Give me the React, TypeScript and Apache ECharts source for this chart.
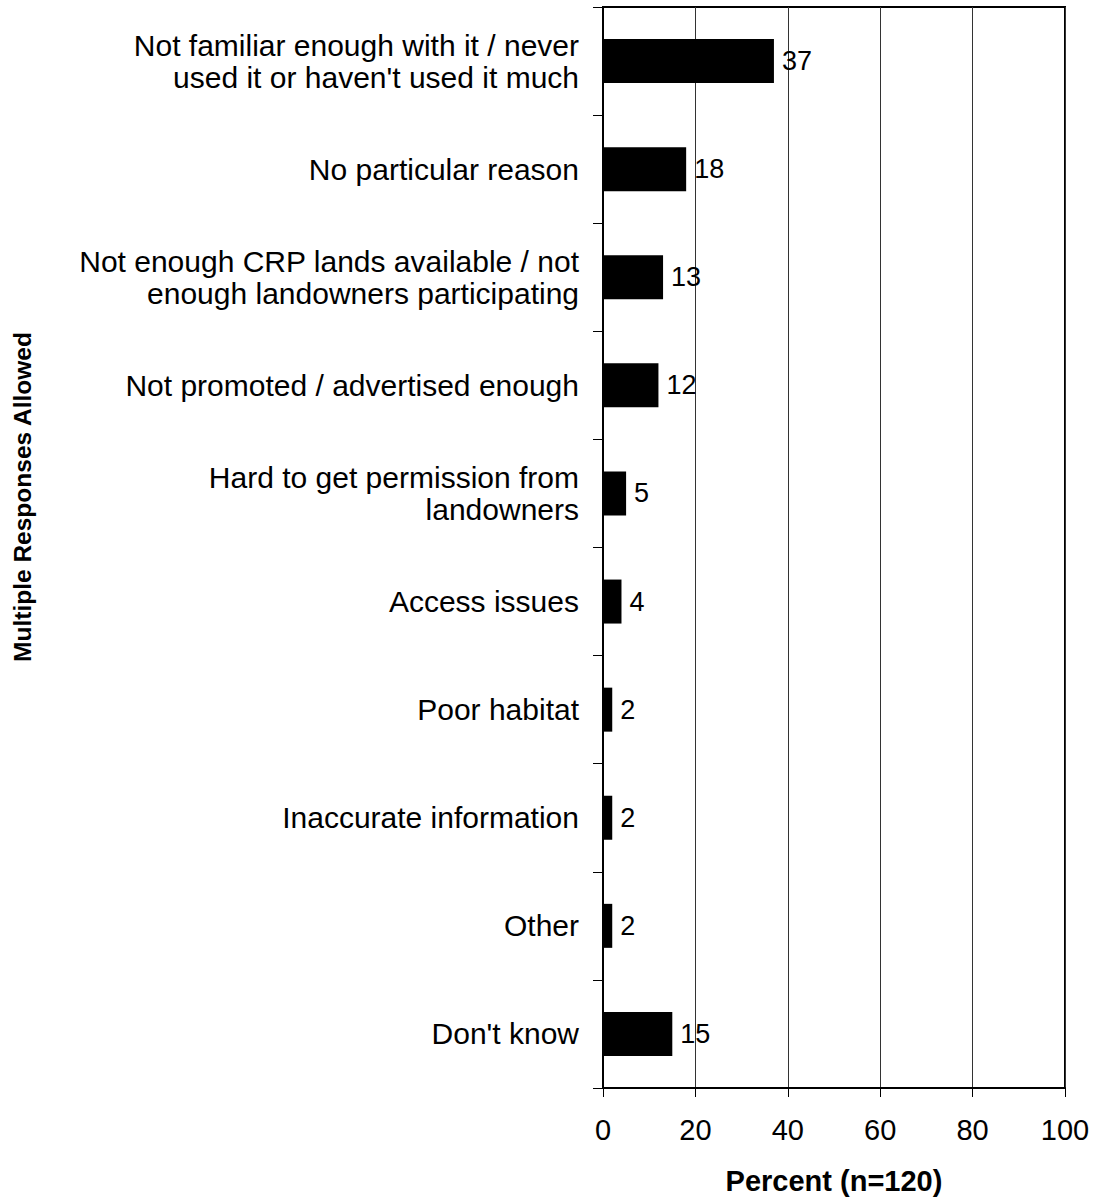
import React, { useEffect, useRef } from "react";
import * as echarts from "echarts";

const categories = [
  "Not familiar enough with it / never\nused it or haven't used it much",
  "No particular reason",
  "Not enough CRP lands available / not\nenough landowners participating",
  "Not promoted / advertised enough",
  "Hard to get permission from\nlandowners",
  "Access issues",
  "Poor habitat",
  "Inaccurate information",
  "Other",
  "Don't know",
];
const values = [37, 18, 13, 12, 5, 4, 2, 2, 2, 15];
const xTicks = [0, 20, 40, 60, 80, 100];
const xTitle = "Percent (n=120)";
const yTitle = "Multiple Responses Allowed";

const FONT = "Liberation Sans, Arial, sans-serif";

export default function App() {
  const ref = useRef<HTMLDivElement>(null);
  useEffect(() => {
    if (!ref.current) return;
    const chart = echarts.init(ref.current, null, { renderer: "svg" });
    chart.setOption({
      animation: false,
      backgroundColor: "#fff",
      textStyle: { fontFamily: FONT },
      grid: {
        left: 603,
        top: 7,
        width: 462,
        height: 1081,
        containLabel: false,
        outerBoundsMode: "none",
        show: true,
        borderColor: "#000",
        borderWidth: 2,
        backgroundColor: "transparent",
      },
      xAxis: {
        type: "value",
        min: xTicks[0],
        max: xTicks[xTicks.length - 1],
        interval: 20,
        name: xTitle,
        nameLocation: "middle",
        nameGap: 78,
        nameTextStyle: { fontSize: 29, fontWeight: "bold", color: "#000", fontFamily: FONT },
        axisLine: { show: true, lineStyle: { color: "#000", width: 2 } },
        axisTick: { show: true, length: 9, lineStyle: { color: "#000", width: 1 } },
        axisLabel: { fontSize: 29, color: "#000", margin: 27, fontFamily: FONT },
        splitLine: { show: true, lineStyle: { color: "#333", width: 1 } },
      },
      yAxis: {
        type: "category",
        data: categories,
        inverse: true,
        axisLine: { show: true, lineStyle: { color: "#000", width: 2 } },
        axisTick: { show: true, length: 10, lineStyle: { color: "#000", width: 1 } },
        axisLabel: {
          fontSize: 30,
          color: "#000",
          margin: 24,
          lineHeight: 32,
          align: "right",
          fontFamily: FONT,
        },
        splitLine: { show: false },
      },
      graphic: [
        {
          type: "text",
          x: 22,
          y: 497,
          rotation: Math.PI / 2,
          style: {
            text: yTitle,
            fontSize: 24.5,
            fontWeight: "bold",
            fill: "#000",
            fontFamily: FONT,
            align: "center",
            verticalAlign: "middle",
          },
        },
      ],
      series: [
        {
          type: "bar",
          data: values,
          barWidth: 44,
          itemStyle: { color: "#000" },
          label: {
            show: true,
            position: "right",
            distance: 8,
            fontSize: 27,
            color: "#000",
            fontFamily: FONT,
          },
        },
      ],
    });
    return () => chart.dispose();
  }, []);
  return (
    <div
      ref={ref}
      style={{ position: "absolute", left: 0, top: 0, width: 1094, height: 1198 }}
    />
  );
}
